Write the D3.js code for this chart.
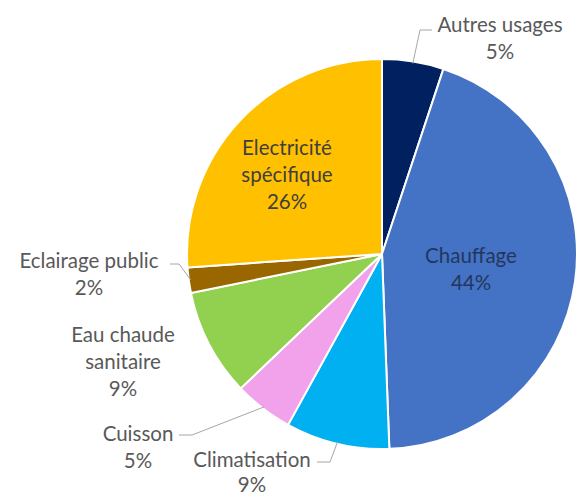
<!DOCTYPE html>
<html>
<head>
<meta charset="utf-8">
<script src="https://cdn.jsdelivr.net/npm/d3@7"></script>
<style>
  body { margin: 0; background: #fff; }
  svg { display: block; font-family: Lato, "Open Sans", sans-serif; }
</style>
</head>
<body>
<div id="chart"></div>
<script>
const categories = ['Autres usages', 'Chauffage', 'Climatisation', 'Cuisson', 'Eau chaude sanitaire', 'Eclairage public', 'Electricité spécifique'];
const values = [5.1, 44.3, 8.6, 4.9, 8.9, 2.1, 26.1];
const labels = ['5%', '44%', '9%', '5%', '9%', '2%', '26%'];
const colors = ['#002060', '#4472C4', '#00B0F0', '#F2A2EA', '#92D050', '#996600', '#FFC000'];

// label text lines and layout (label centre of first line, leader elbow / end)
const labelLines = [
  ['Autres usages', '5%'],
  ['Chauffage', '44%'],
  ['Climatisation', '9%'],
  ['Cuisson', '5%'],
  ['Eau chaude', 'sanitaire', '9%'],
  ['Eclairage public', '2%'],
  ['Electricité', 'spécifique', '26%']
];
const labelPos = [[500, 25], [471, 256], [252, 460], [138, 434], [123, 335], [89, 261], [287, 148]];
const lineGap = [27, 27, 25, 27, 27, 27, 27];
const leaders = [
  {elbow: [420, 30], end: [432, 30]},
  null,
  {elbow: [330, 462], end: [317, 462]},
  {elbow: [192, 435], end: [179, 435]},
  null,
  {elbow: [179, 264], end: [170, 264]},
  null
];
const insideColor = [null, '#23375e', null, null, null, null, '#3f3f3f'];

const width = 579, height = 498;
const cx = 382, cy = 254, radius = 195;

const svg = d3.select('#chart').append('svg')
  .attr('width', width)
  .attr('height', height);

const g = svg.append('g').attr('transform', `translate(${cx},${cy})`);

const pie = d3.pie().sort(null).value(d => d);
const arcs = pie(values);

const arc = d3.arc().innerRadius(0).outerRadius(radius);
const edgeArc = d3.arc().innerRadius(radius - 2).outerRadius(radius - 2);

g.selectAll('path.slice')
  .data(arcs)
  .enter()
  .append('path')
  .attr('class', 'slice')
  .attr('d', arc)
  .attr('fill', (d, i) => colors[i])
  .attr('stroke', '#fff')
  .attr('stroke-width', 2)
  .attr('stroke-linejoin', 'round');

// leader lines
arcs.forEach((d, i) => {
  const l = leaders[i];
  if (!l) return;
  const p = edgeArc.centroid(d);
  const pts = [[p[0] + cx, p[1] + cy], l.elbow, l.end];
  svg.append('path')
    .attr('d', d3.line()(pts))
    .attr('fill', 'none')
    .attr('stroke', '#a6a6a6')
    .attr('stroke-width', 1);
});

// labels
labelLines.forEach((lines, i) => {
  const t = svg.append('text')
    .attr('text-anchor', 'middle')
    .attr('font-size', 20.5)
    .attr('fill', insideColor[i] || '#595959');
  lines.forEach((s, j) => {
    t.append('tspan')
      .attr('x', labelPos[i][0])
      .attr('y', labelPos[i][1] + j * lineGap[i])
      .attr('dy', '0.35em')
      .text(s);
  });
});
</script>
</body>
</html>
